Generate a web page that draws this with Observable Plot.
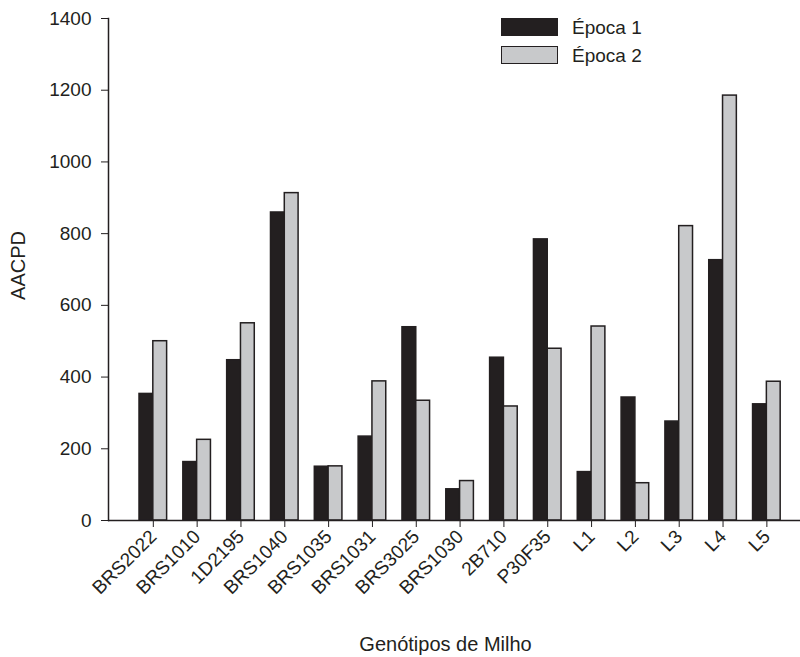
<!DOCTYPE html>
<html><head><meta charset="utf-8">
<script src="https://cdn.jsdelivr.net/npm/d3@7"></script>
<script src="https://cdn.jsdelivr.net/npm/@observablehq/plot@0.6"></script>
<style>
body{margin:0;background:#fff;}
#wrap{position:relative;width:800px;height:657px;font-family:"Liberation Sans",Arial,sans-serif;color:#231f20;}
.leg{position:absolute;left:501px;width:55px;height:16px;border:1.5px solid #231f20;}
.legt{position:absolute;left:572px;font-size:19px;line-height:19px;}
</style></head><body><div id="wrap"></div>
<script>
const genotipos = ["BRS2022","BRS1010","1D2195","BRS1040","BRS1035","BRS1031","BRS3025","BRS1030","2B710","P30F35","L1","L2","L3","L4","L5"];
const epoca1 = [353,163,447,859,150,234,539,87,454,784,135,343,276,726,324];
const epoca2 = [500,225,550,913,151,388,334,110,318,479,541,104,821,1185,387];
const series = ["Época 1","Época 2"];
const colors = ["#231f20","#c8c9cb"];
const yTicks = [0,200,400,600,800,1000,1200,1400];
const xTitle = "Genótipos de Milho";
const yTitle = "AACPD";

const d1 = genotipos.map((g,i)=>({g, s: series[0], v: epoca1[i]}));
const d2 = genotipos.map((g,i)=>({g, s: series[1], v: epoca2[i]}));
const half = 13.8;

const chart = Plot.plot({
  width: 800, height: 657,
  marginLeft: 108, marginRight: 0, marginTop: 18, marginBottom: 137,
  style: {fontFamily: '"Liberation Sans", Arial, sans-serif', color: "#231f20", background: "#fff"},
  x: {domain: genotipos, paddingInner: 0.37, paddingOuter: 0.58, align: 0.61, round: false},
  y: {domain: [0, 1400]},
  color: {domain: series, range: colors},
  marks: [
    Plot.barY(d1, {x: "g", y: "v", fill: "s", stroke: "#231f20", strokeWidth: 1.5, insetRight: half}),
    Plot.barY(d2, {x: "g", y: "v", fill: "s", stroke: "#231f20", strokeWidth: 1.5, insetLeft: half}),
    Plot.axisY({ticks: yTicks, tickFormat: d => String(d), tickSize: 7, tickPadding: 10, fontSize: 19, label: null, stroke: "#231f20"}),
    Plot.axisX({tickSize: 7, tickRotate: -45, tickPadding: 6, fontSize: 19, label: null, stroke: "#231f20"}),
    Plot.ruleY([0], {stroke: "#231f20", strokeWidth: 1.5}),
    Plot.frame({anchor: "left", stroke: "#231f20", strokeWidth: 1.5}),
    Plot.text([yTitle], {text: d => d, frameAnchor: "left", rotate: -90, dx: -89.5, dy: -4, fontSize: 20, textAnchor: "middle", lineAnchor: "middle", fill: "#231f20"}),
    Plot.text([xTitle], {text: d => d, frameAnchor: "bottom", dx: -9, dy: 123.6, fontSize: 20, textAnchor: "middle", lineAnchor: "middle", fill: "#231f20"})
  ]
});
const wrap = document.getElementById("wrap");
wrap.appendChild(chart);
series.forEach((s, i) => {
  const r = document.createElement("div");
  r.className = "leg";
  r.style.top = (18 + i * 28) + "px";
  r.style.background = colors[i];
  wrap.appendChild(r);
  const t = document.createElement("div");
  t.className = "legt";
  t.style.top = (18 + i * 28) + "px";
  t.textContent = s;
  wrap.appendChild(t);
});
</script></body></html>
